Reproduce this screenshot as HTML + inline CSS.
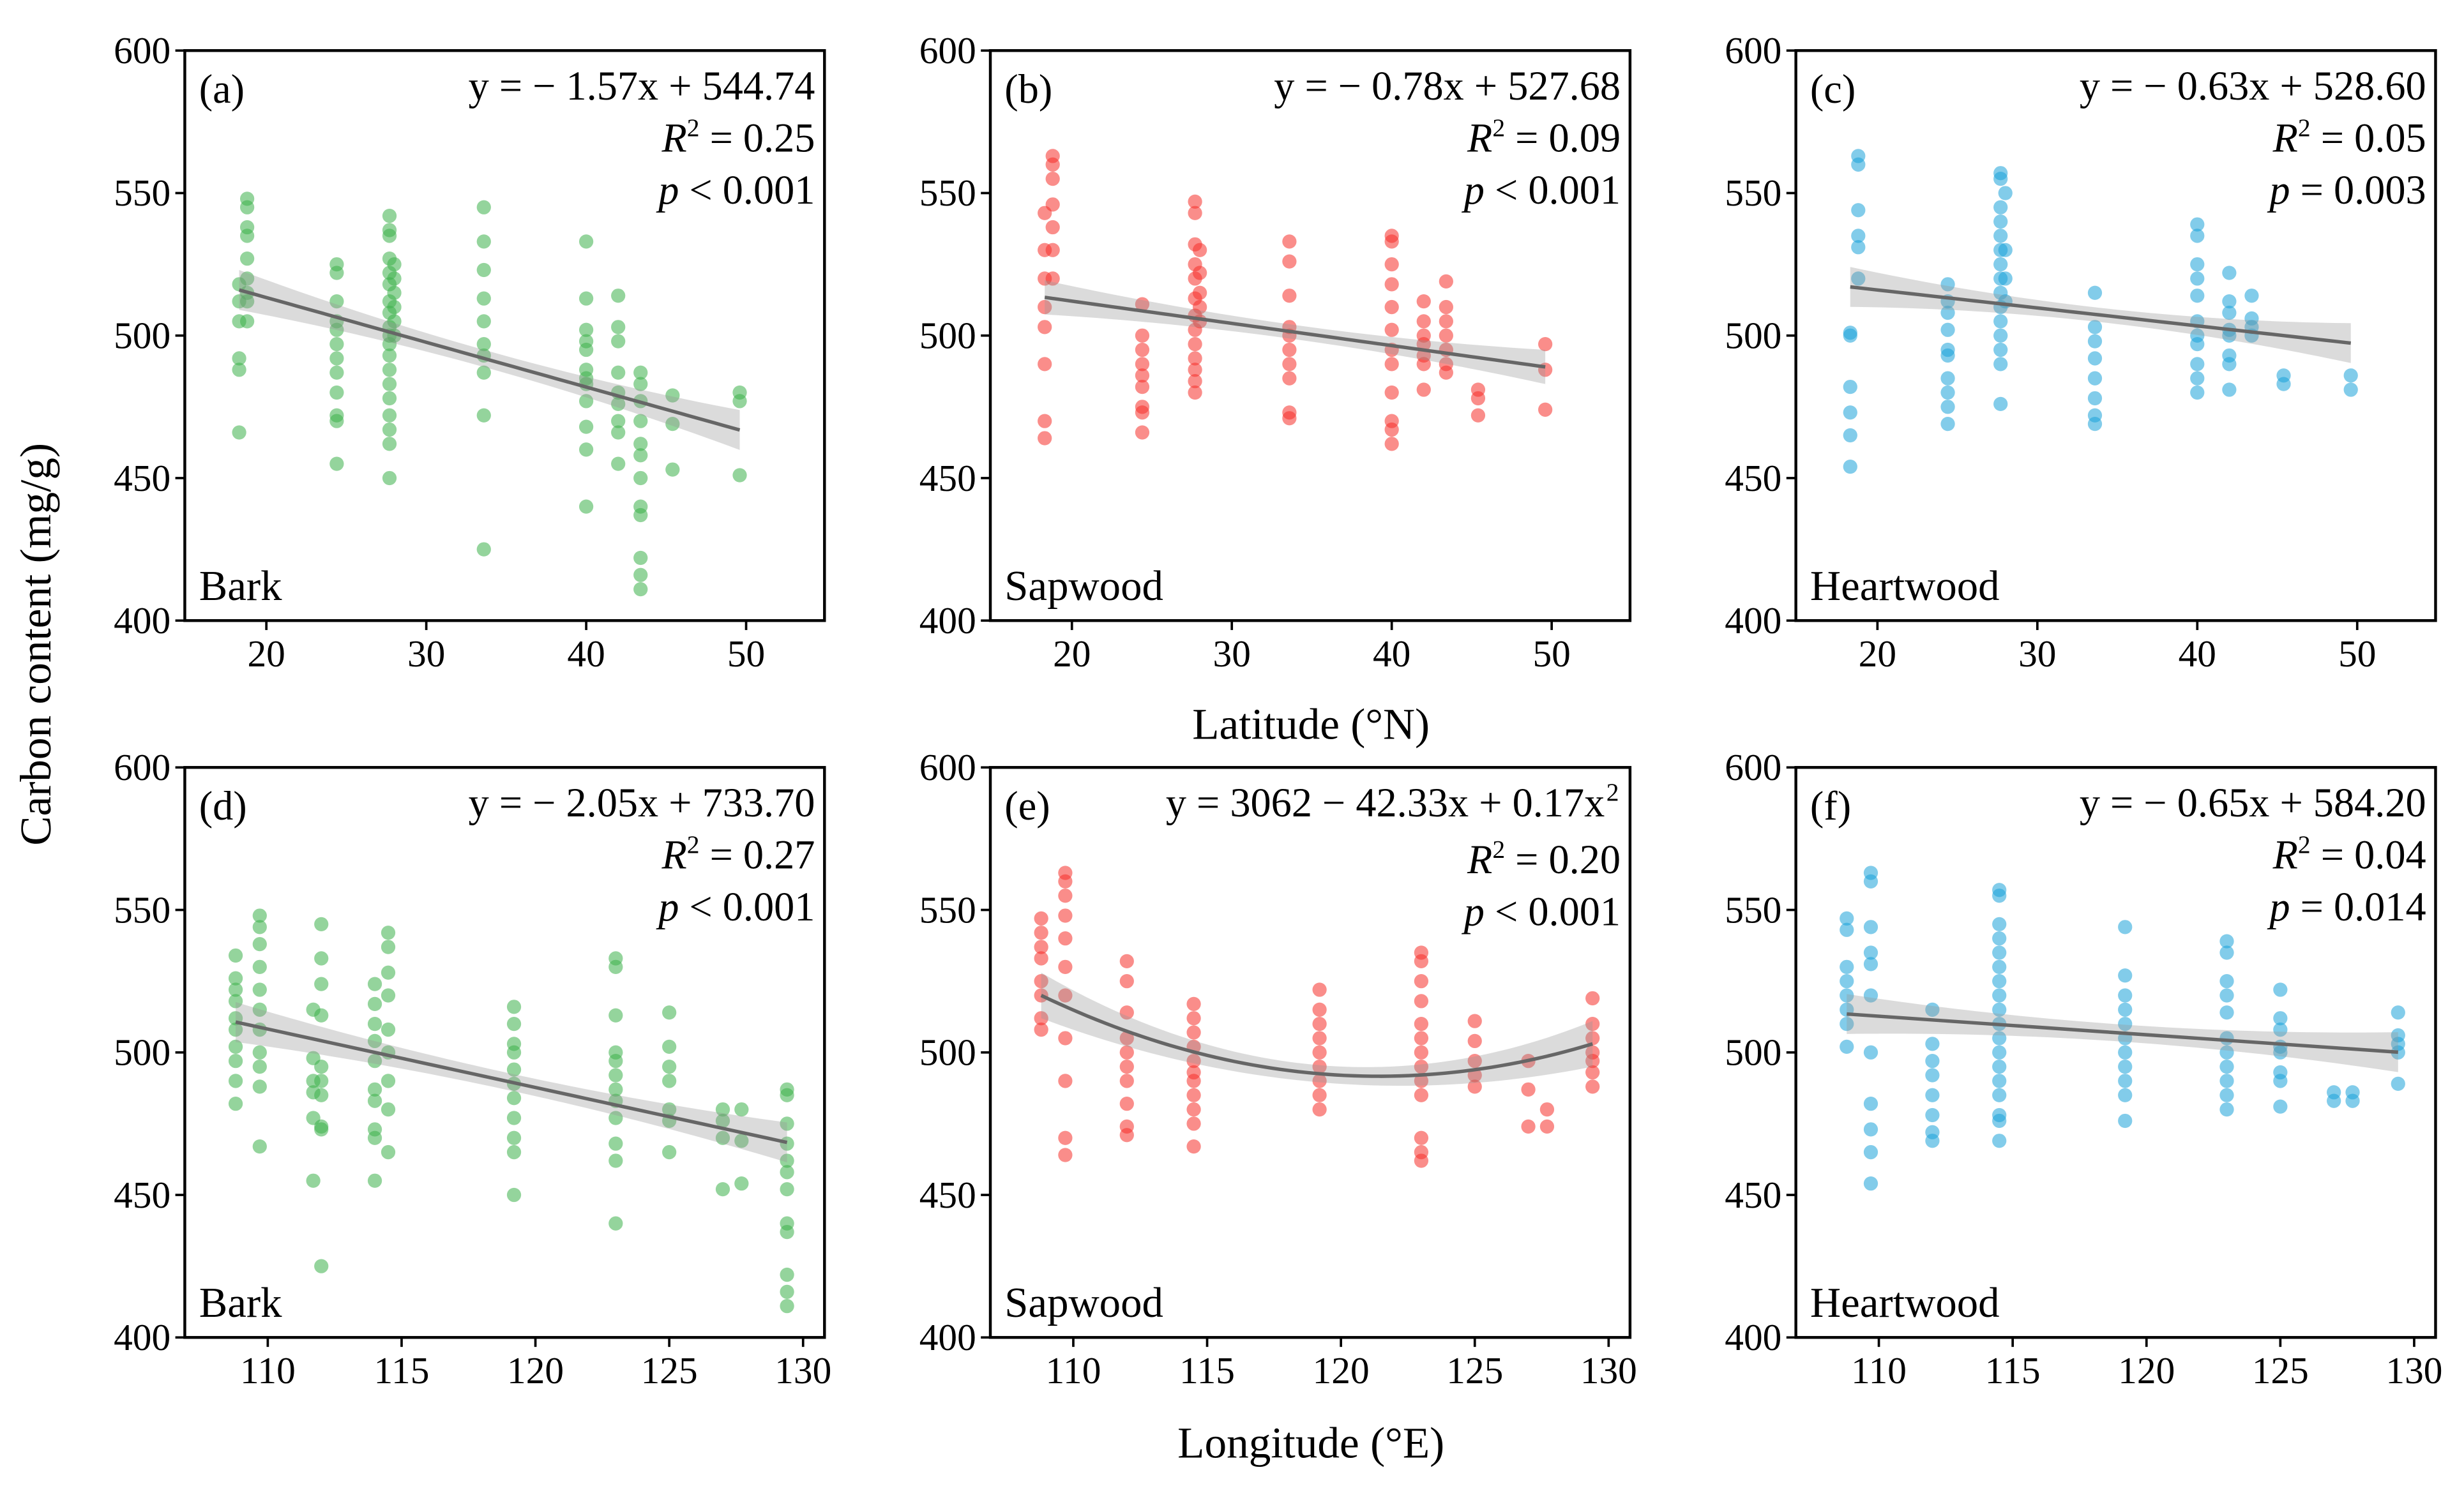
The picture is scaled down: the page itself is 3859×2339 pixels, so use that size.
<!DOCTYPE html>
<html><head><meta charset="utf-8"><style>
html,body{margin:0;padding:0;background:#fff}
svg{display:block}
text{font-family:"Liberation Serif",serif;fill:#000}
</style></head><body>
<svg id="chart" width="3859" height="2339" viewBox="0 0 1560 945.5" xmlns="http://www.w3.org/2000/svg"></svg>
<script>
const latSites=[18.3,18.8,24.4,27.7,28.0,33.6,40.0,42.0,43.4,45.4,49.6];
const barkLat=[[466,488,492,505,512,518],[548,545,538,535,527,520,515,512,505],[525,522,512,505,502,497,492,487,480,472,470,455],[542,537,535,527,522,518,512,508,503,500,497,493,488,483,478,472,467,462,450],[525,520,515,510,505,500],[545,533,523,513,505,497,493,487,472,425],[533,513,502,498,495,488,485,483,477,468,460,440],[514,503,498,487,480,476,470,466,455],[487,483,477,470,462,458,450,440,437,422,416,411],[479,469,453],[480,477,451]];
const sapLat=[[543,530,520,510,503,490,470,464],[563,560,555,546,538,530,520],[511,500,495,490,486,482,475,473,466],[547,543,532,525,520,513,507,502,497,492,488,484,480],[530,522,515,510,505],[533,526,514,503,500,495,490,485,473,471],[535,533,525,518,510,502,495,490,480,470,467,462],[512,505,500,497,493,490,481],[519,510,505,500,495,490,487],[481,478,472],[497,488,474]];
const heartLat=[[501,500,482,473,465,454],[563,560,544,535,531,520],[518,512,508,502,495,493,485,480,475,469],[557,555,545,540,535,530,525,520,515,510,505,500,495,490,476],[550,530,520,512],[515,503,498,492,485,478,472,469],[539,535,525,520,514,505,500,497,490,485,480],[522,512,508,502,500,493,490,481],[514,506,503,500],[486,483],[486,481]];
const lonSites=[108.8,109.7,111.7,112.0,114.0,114.5,119.2,123.0,125.0,127.0,127.7,129.4];
const barkLon=[[534,526,522,518,512,508,502,497,490,482],[548,544,538,530,522,515,508,500,495,488,467],[515,498,490,486,477,455],[545,533,524,513,495,490,485,474,473,425],[524,517,510,504,497,487,483,473,470,455],[542,537,528,520,508,500,490,480,465],[516,510,503,500,494,489,484,477,470,465,450],[533,530,513,500,497,492,487,483,477,468,462,440],[514,502,495,490,480,476,465],[480,476,470,452],[480,469,454],[487,485,475,468,462,458,452,440,437,422,416,411]];
const sapLon=[[547,542,537,533,525,520,512,508],[563,560,555,548,540,530,520,505,490,470,464],[],[532,525,514,505,500,495,490,482,474,471],[],[517,512,507,502,497,493,490,485,480,475,467],[522,515,510,505,500,495,490,485,480],[535,532,525,518,510,505,500,495,490,485,470,465,462],[511,504,497,492,488],[497,487,474],[480,474],[519,510,505,500,497,493,488]];
const heartLon=[[547,543,530,525,520,515,510,502],[563,560,544,535,531,520,500,482,473,465,454],[],[515,503,497,492,485,478,472,469],[],[557,555,545,540,535,530,525,520,515,510,505,500,495,490,485,478,476,469],[544,527,520,515,510,505,500,495,490,485,476],[539,535,525,520,514,505,500,495,490,485,480],[522,512,508,502,500,493,490,481],[486,483],[486,483],[514,506,503,500,489]];
const latTicks=[20,30,40,50];
const lonTicks=[110,115,120,125,130];
const yTicks=[400,450,500,550,600];
const fitA=[544.74,-1.57,0],fitB=[527.68,-0.78,0],fitC=[528.60,-0.63,0];
const fitD=[733.70,-2.05,0],fitF=[584.20,-0.65,0];
const fitE=(function(){const x1=108.8,y1=520,x2=120,y2=492,x3=129.4,y3=503;
 const a=((y3-y1)/(x3-x1)-(y2-y1)/(x2-x1))/(x3-x2);const b=(y2-y1)/(x2-x1)-a*(x1+x2);return [y1-b*x1-a*x1*x1,b,a];})();

const NS="http://www.w3.org/2000/svg";
const svg=document.getElementById('chart');
function mk(tag,attrs,parent){const e=document.createElementNS(NS,tag);for(const k in attrs)e.setAttribute(k,attrs[k]);(parent||svg).appendChild(e);return e;}

const panels=[
 {id:'a',x0:117,y0:32,sites:latSites,data:barkLat,fit:fitA,dom:[14.9,54.9],ticks:latTicks,col:'#3cb04a',name:'Bark',eq:['y = − 1.57x + 544.74','0.25','p < 0.001'],band:[3,7]},
 {id:'b',x0:627,y0:32,sites:latSites,data:sapLat,fit:fitB,dom:[14.9,54.9],ticks:latTicks,col:'#f5302a',name:'Sapwood',eq:['y = − 0.78x + 527.68','0.09','p < 0.001'],band:[2.5,6]},
 {id:'c',x0:1137,y0:32,sites:latSites,data:heartLat,fit:fitC,dom:[14.9,54.9],ticks:latTicks,col:'#1ba3d8',name:'Heartwood',eq:['y = − 0.63x + 528.60','0.05','p = 0.003'],band:[2.5,7]},
 {id:'d',x0:117,y0:486,sites:lonSites,data:barkLon,fit:fitD,dom:[106.9,130.8],ticks:lonTicks,col:'#3cb04a',name:'Bark',eq:['y = − 2.05x + 733.70','0.27','p < 0.001'],band:[3,7]},
 {id:'e',x0:627,y0:486,sites:lonSites,data:sapLon,fit:fitE,dom:[106.9,130.8],ticks:lonTicks,col:'#f5302a',name:'Sapwood',eq:['y = 3062 − 42.33x + 0.17x','0.20','p < 0.001'],band:[3,8]},
 {id:'f',x0:1137,y0:486,sites:lonSites,data:heartLon,fit:fitF,dom:[106.9,130.8],ticks:lonTicks,col:'#1ba3d8',name:'Heartwood',eq:['y = − 0.65x + 584.20','0.04','p = 0.014'],band:[3,7]}
];
const W=405,H=361;
panels.forEach(p=>{
 const g=mk('g',{});
 
 
 const sx=v=>p.x0+(v-p.dom[0])/(p.dom[1]-p.dom[0])*W;
 const sy=v=>p.y0+H-(v-400)/200*H;
 const f=x=>p.fit[0]+p.fit[1]*x+p.fit[2]*x*x;
 p.data.forEach((vals,i)=>vals.forEach(v=>{
  const c=mk('circle',{cx:sx(p.sites[i]),cy:sy(v),r:4.5,fill:p.col,'fill-opacity':0.55},g);
  
  
 }));
 const xs=p.sites[0],xe=p.sites[p.sites.length-1],xm=(xs+xe)/2,hr=(xe-xs)/2;
 let up=[],lo=[],ln=[];
 for(let k=0;k<=60;k++){const x=xs+(xe-xs)*k/60;const h=p.band[0]+(p.band[1]-p.band[0])*Math.pow((x-xm)/hr,2);
  up.push(sx(x)+','+sy(f(x)+h));lo.unshift(sx(x)+','+sy(f(x)-h));ln.push(sx(x)+','+sy(f(x)));}
 const band=mk('polygon',{points:up.concat(lo).join(' '),fill:'#999','fill-opacity':0.35},g);
 
 
 const line=mk('polyline',{points:ln.join(' '),fill:'none',stroke:'#666','stroke-width':2.2},g);
 
 
 const fr=mk('rect',{x:p.x0,y:p.y0,width:W,height:H,fill:'none',stroke:'#000','stroke-width':1.8},g);
 
 
 yTicks.forEach(t=>{
  mk('line',{x1:p.x0,x2:p.x0-6,y1:sy(t),y2:sy(t),stroke:'#000','stroke-width':1.5},g);
  const tx=mk('text',{x:p.x0-9,y:sy(t)+8,'text-anchor':'end','font-size':24},g);tx.textContent=t;
  
  
 });
 p.ticks.forEach(t=>{
  mk('line',{x1:sx(t),x2:sx(t),y1:p.y0+H,y2:p.y0+H+6,stroke:'#000','stroke-width':1.5},g);
  const tx=mk('text',{x:sx(t),y:p.y0+H+29,'text-anchor':'middle','font-size':24},g);tx.textContent=t;
  
  
 });
 const lab=mk('text',{x:p.x0+9,y:p.y0+33,'font-size':26},g);lab.textContent='('+p.id+')';
 
 
 const nm=mk('text',{x:p.x0+9,y:p.y0+H-13,'font-size':27},g);nm.textContent=p.name;
 
 
 const rx=p.x0+W-6;
 const e1=mk('text',{x:rx,y:p.y0+31,'text-anchor':'end','font-size':26},g);
 
 
 if(p.id==='e'){e1.setAttribute('x',rx-10);e1.textContent=p.eq[0];
  const s=mk('text',{x:rx-1,y:p.y0+21,'text-anchor':'end','font-size':16},g);s.textContent='2';}
 else e1.textContent=p.eq[0];
 const ry=p.id==='e'?p.y0+67:p.y0+64;
 const e2=mk('text',{x:rx,y:ry,'text-anchor':'end','font-size':26},g);
 e2.innerHTML='<tspan font-style="italic">R</tspan><tspan dy="-10" font-size="16">2</tspan><tspan dy="10"> = '+p.eq[1]+'</tspan>';
 
 
 const pv=p.eq[2].split(' ');
 const e3=mk('text',{x:rx,y:ry+33,'text-anchor':'end','font-size':26},g);
 e3.innerHTML='<tspan font-style="italic">p</tspan> '+pv[1]+' '+pv[2];
 
 
});
const t1=mk('text',{x:830,y:468,'text-anchor':'middle','font-size':28});t1.textContent='Latitude (°N)';


const t2=mk('text',{x:830,y:923,'text-anchor':'middle','font-size':28});t2.textContent='Longitude (°E)';


const t3=mk('text',{x:32,y:408,'text-anchor':'middle','font-size':28,transform:'rotate(-90 32 408)'});t3.textContent='Carbon content (mg/g)';


</script>
</body></html>
